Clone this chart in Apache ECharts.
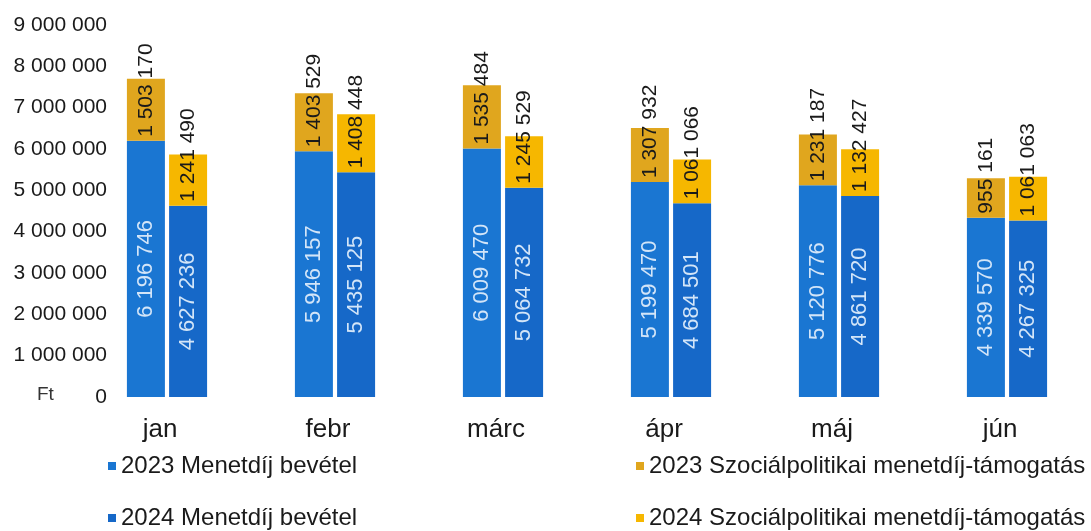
<!DOCTYPE html>
<html>
<head>
<meta charset="utf-8">
<title>Menetdíj bevétel</title>
<script src="https://cdn.jsdelivr.net/npm/echarts@6/dist/echarts.min.js"></script>
<style>
    html, body { margin: 0; padding: 0; background: #fff; }
    #chart { width: 1091px; height: 531px; }
</style>
</head>
<body>
<div id="chart"></div>
<script type="text/javascript">
// havi adatok (Ft)
var months = ['jan', 'febr', 'márc', 'ápr', 'máj', 'jún'];
var fare2023 = [6196746, 5946157, 6009470, 5199470, 5120776, 4339570];
var support2023 = [1503170, 1403529, 1535484, 1307932, 1231187, 955161];
var fare2024 = [4627236, 5435125, 5064732, 4684501, 4861720, 4267325];
var support2024 = [1241490, 1408448, 1245529, 1061066, 1132427, 1061063];
var yTicks = [0, 1000000, 2000000, 3000000, 4000000, 5000000, 6000000, 7000000, 8000000, 9000000];

var names = [
    '2023 Menetdíj bevétel',
    '2023 Szociálpolitikai menetdíj-támogatás',
    '2024 Menetdíj bevétel',
    '2024 Szociálpolitikai menetdíj-támogatás'
];

function fmt(v) {
    return String(v).replace(/\B(?=(\d{3})+(?!\d))/g, ' ');
}

var font = '"Liberation Sans", Arial, sans-serif';

var blueLabel = {
    show: true,
    position: 'inside',
    rotate: 90,
    color: '#d3e5f8',
    fontFamily: font,
    fontSize: 22,
    formatter: function (p) { return fmt(p.value); }
};
var goldLabel = {
    show: true,
    position: 'insideBottom',
    distance: 4,
    rotate: 90,
    align: 'left',
    verticalAlign: 'middle',
    color: '#1a1a1a',
    fontFamily: font,
    fontSize: 21,
    formatter: function (p) { return fmt(p.value); }
};

var legendText = { fontFamily: font, fontSize: 24, lineHeight: 24, color: '#1a1a1a' };

var chart = echarts.init(document.getElementById('chart'));
var option = {
    animation: false,
    backgroundColor: '#fff',
    title: {
        text: 'Ft',
        left: 32,
        top: 380,
        textStyle: { fontFamily: font, fontSize: 19, fontWeight: 'normal', color: '#333' }
    },
    legend: [
        {
            data: [names[0], names[2]],
            orient: 'vertical',
            left: 108,
            top: 454,
            height: 120,
            padding: 0,
            itemWidth: 8,
            itemHeight: 8,
            itemGap: 28,
            icon: 'rect',
            textStyle: legendText
        },
        {
            data: [names[1], names[3]],
            orient: 'vertical',
            left: 636,
            top: 454,
            height: 120,
            padding: 0,
            itemWidth: 8,
            itemHeight: 8,
            itemGap: 28,
            icon: 'rect',
            textStyle: legendText
        }
    ],
    grid: {
        left: 83,
        top: 25,
        width: 1030,
        height: 372
    },
    xAxis: {
        type: 'category',
        data: months,
        axisLine: { show: false },
        axisTick: { show: false },
        axisLabel: {
            margin: 20,
            padding: [0, 14, 0, 0],
            fontFamily: font,
            fontSize: 26,
            color: '#1a1a1a'
        }
    },
    yAxis: {
        type: 'value',
        min: yTicks[0],
        max: yTicks[yTicks.length - 1],
        interval: 1000000,
        offset: -32,
        splitLine: { show: false },
        axisLine: { show: false },
        axisTick: { show: false },
        axisLabel: {
            margin: 8,
            fontFamily: font,
            fontSize: 21,
            color: '#1a1a1a',
            formatter: function (v) { return fmt(v); }
        }
    },
    series: [
        {
            name: names[0],
            type: 'bar',
            stack: '2023',
            barWidth: 38,
            barGap: '11%',
            itemStyle: { color: '#1a76d2' },
            label: blueLabel,
            data: fare2023
        },
        {
            name: names[1],
            type: 'bar',
            stack: '2023',
            itemStyle: { color: '#e0a61e' },
            label: goldLabel,
            data: support2023
        },
        {
            name: names[2],
            type: 'bar',
            stack: '2024',
            barWidth: 38,
            barGap: '11%',
            itemStyle: { color: '#1668c8' },
            label: blueLabel,
            data: fare2024
        },
        {
            name: names[3],
            type: 'bar',
            stack: '2024',
            itemStyle: { color: '#f6b700' },
            label: goldLabel,
            data: support2024
        }
    ]
};

chart.setOption(option);
</script>
</body>
</html>
